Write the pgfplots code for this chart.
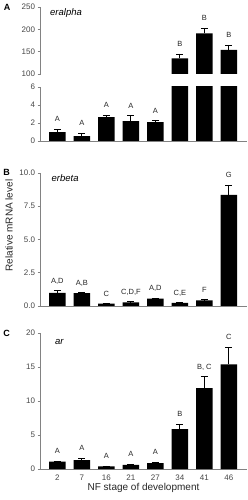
\documentclass[border=0pt]{standalone}
\usepackage{fontspec}
\setmainfont{Liberation Sans}
\usepackage{pgfplots}
\pgfplotsset{compat=1.18}
\definecolor{axgray}{RGB}{130,130,130}
\definecolor{txtgray}{RGB}{70,70,70}
\pgfplotsset{
  panel/.style={
    scale only axis, width=206pt,
    xmin=-0.69, xmax=7.72,
    axis y line*=left,
    axis line style={axgray, line width=0.7pt},
    every tick/.style={axgray, line width=0.7pt},
    tick align=outside, major tick length=3pt,
    /pgf/number format/assume math mode=true,
    ticklabel style={font=\fontsize{8}{9}\selectfont, text=txtgray},
    yticklabel style={xshift=1pt},
    xtick=\empty,
  },
  bars/.style={ybar, bar width=16.5pt, fill=black, draw=none,
    error bars/.cd, y dir=plus, y explicit,
    error bar style={black, line width=0.8pt},
    error mark options={black, rotate=90, mark size=3.6pt, line width=0.8pt}},
  labs/.style={draw=none, mark=none, nodes near coords, point meta=explicit symbolic,
    every node near coord/.append style={anchor=base, yshift=7.5pt, inner sep=0pt,
      font=\fontsize{7.5}{8}\selectfont, text=black!85}},
}
\begin{document}
\begin{tikzpicture}
\useasboundingbox (0,0) rectangle (247pt,500pt);
% ---------- Panel A upper ----------
\begin{axis}[panel, at={(40.5pt,426pt)}, anchor=south west, height=67pt,
  ymin=100, ymax=250, ytick={100,150,200,250}, axis x line=none]
\addplot[bars] coordinates {(5,135) +- (0,9.8) (6,191) +- (0,11) (7,154) +- (0,11)};
\addplot[labs] coordinates {(5,144.8) [B] (6,202) [B] (7,165) [B]};
\end{axis}
% ---------- Panel A lower ----------
\begin{axis}[panel, at={(40.5pt,359pt)}, anchor=south west, height=54pt,
  ymin=0, ymax=6, ytick={0,2,4,6}, axis x line*=bottom]
\addplot[bars] coordinates {(0,0.98) +- (0,0.30) (1,0.55) +- (0,0.30) (2,2.64) +- (0,0.21)
  (3,2.2) +- (0,0.62) (4,2.1) +- (0,0.15) (5,135) +- (0,9.8) (6,191) +- (0,11) (7,154) +- (0,11)};
\addplot[labs] coordinates {(0,1.28) [A] (1,0.85) [A] (2,2.85) [A] (3,2.82) [A] (4,2.25) [A]};
\end{axis}
% ---------- Panel B ----------
\begin{axis}[panel, at={(40.5pt,194pt)}, anchor=south west, height=133pt,
  ymin=0, ymax=10, ytick={0,2.5,5,7.5,10}, axis x line*=bottom, clip=false,
  yticklabel style={/pgf/number format/fixed, /pgf/number format/fixed zerofill,
    /pgf/number format/precision=1}]
\addplot[bars] coordinates {(0,0.99) +- (0,0.15) (1,0.96) +- (0,0.04) (2,0.18) +- (0,0)
  (3,0.28) +- (0,0.05) (4,0.56) +- (0,0.02) (5,0.24) +- (0,0.02) (6,0.43) +- (0,0.03) (7,8.35) +- (0,0.75)};
\addplot[labs] coordinates {(0,1.14) [{A,D}] (1,1.0) [{A,B}] (2,0.18) [C] (3,0.33) [{C,D,F}]
  (4,0.58) [{A,D}] (5,0.26) [{C,E}] (6,0.46) [F] (7,9.1) [G]};
\end{axis}
% ---------- Panel C ----------
\begin{axis}[panel, at={(40.5pt,31pt)}, anchor=south west, height=136pt,
  ymin=0, ymax=20, ytick={0,5,10,15,20}, axis x line*=bottom, clip=false,
  xtick={0,1,2,3,4,5,6,7}, xticklabels={2,7,16,21,27,34,41,46},
  x tick style={draw=none},
  xticklabel style={yshift=1pt},
  xlabel={NF stage of development},
  xlabel style={font=\fontsize{10}{12}\selectfont, text=black!85, yshift=4pt}]
\addplot[bars] coordinates {(0,1.07) +- (0,0.1) (1,1.3) +- (0,0.3) (2,0.4) +- (0,0.05)
  (3,0.6) +- (0,0.1) (4,0.88) +- (0,0.1) (5,5.85) +- (0,0.7) (6,11.9) +- (0,1.7) (7,15.4) +- (0,2.5)};
\addplot[labs] coordinates {(0,1.17) [A] (1,1.6) [A] (2,0.45) [A] (3,0.7) [A] (4,0.98) [A]
  (5,6.55) [B] (6,13.6) [{B, C}] (7,17.9) [C]};
\end{axis}
% ---------- texts ----------
\node[font=\fontsize{9}{10}\selectfont\bfseries] at (7pt,493pt) {A};
\node[font=\fontsize{9}{10}\selectfont\bfseries] at (6.5pt,327.5pt) {B};
\node[font=\fontsize{9}{10}\selectfont\bfseries] at (6.5pt,166.5pt) {C};
\node[anchor=west, font=\fontsize{9.5}{11}\selectfont\itshape, inner sep=0pt] at (50pt,487.3pt) {eralpha};
\node[anchor=west, font=\fontsize{9.5}{11}\selectfont\itshape, inner sep=0pt] at (51.5pt,321.7pt) {erbeta};
\node[anchor=west, font=\fontsize{9.5}{11}\selectfont\itshape, inner sep=0pt] at (55pt,157.7pt) {ar};
\node[rotate=90, font=\fontsize{10}{12}\selectfont, text=black!85] at (9pt,274.5pt) {Relative mRNA level};
\end{tikzpicture}
\end{document}
